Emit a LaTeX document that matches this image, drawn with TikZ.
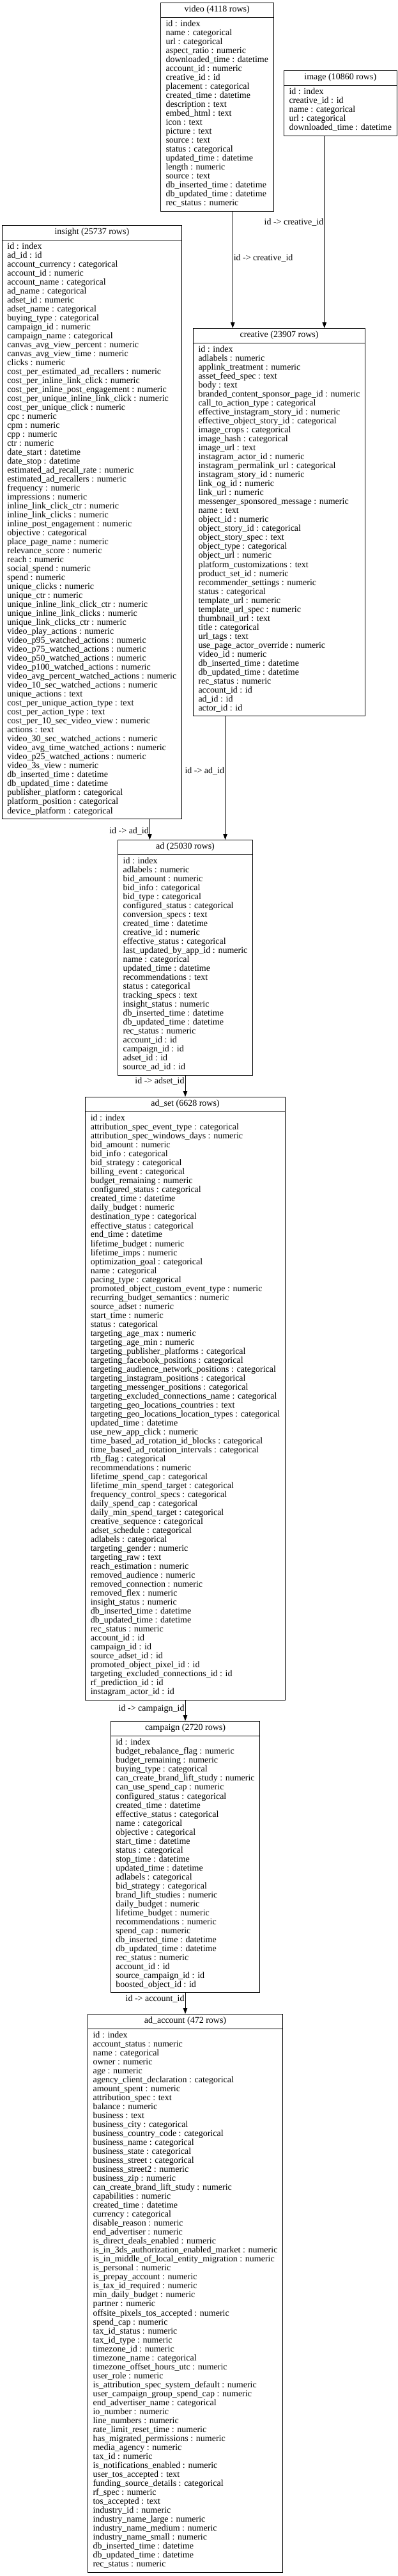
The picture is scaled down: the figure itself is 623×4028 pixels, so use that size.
\documentclass[tikz,border=0pt]{standalone}
\usepackage{fontspec}
\setmainfont{Liberation Serif}
\usetikzlibrary{shapes.multipart, arrows.meta, positioning}

\tikzset{
  tbl/.style={rectangle split, rectangle split parts=2, rectangle split part align={center,left},
    draw, line width=1pt, inner xsep=8pt, inner ysep=4pt, anchor=north west,
    font=\fontsize{14}{14}\selectfont},
  fk/.style={-{Triangle[length=9pt,width=6.5pt]}, line width=1pt},
  fklab/.style={font=\fontsize{14}{14}\selectfont, inner sep=1pt}
}
\newcommand{\tblrows}[1]{\begin{tabular}{@{}l@{}}#1\end{tabular}}

\begin{document}
\begin{tikzpicture}[x=1pt, y=-1pt]
\fill[white] (0,0) rectangle (623,4028);
\useasboundingbox (0,0) rectangle (623,4028);

% top row
\node[tbl] (video) at (251,4) {\strut video (4118 rows)
\nodepart{two}\tblrows{id : index\\ name : categorical\\ url : categorical\\ aspect\_ratio : numeric\\
downloaded\_time : datetime\\ account\_id : numeric\\ creative\_id : id\\ placement : categorical\\
created\_time : datetime\\ description : text\\ embed\_html : text\\ icon : text\\ picture : text\\
source : text\\ status : categorical\\ updated\_time : datetime\\ length : numeric\\ source : text\\
db\_inserted\_time : datetime\\ db\_updated\_time : datetime\\ rec\_status : numeric}};

\node[tbl] (image) at (444,110) {\strut image (10860 rows)
\nodepart{two}\tblrows{id : index\\ creative\_id : id\\ name : categorical\\ url : categorical\\
downloaded\_time : datetime}};

% insight
\node[tbl] (insight) at (3,352) {\strut insight (25737 rows)
\nodepart{two}\tblrows{id : index\\ ad\_id : id\\ account\_currency : categorical\\ account\_id : numeric\\
account\_name : categorical\\ ad\_name : categorical\\ adset\_id : numeric\\ adset\_name : categorical\\
buying\_type : categorical\\ campaign\_id : numeric\\ campaign\_name : categorical\\
canvas\_avg\_view\_percent : numeric\\ canvas\_avg\_view\_time : numeric\\ clicks : numeric\\
cost\_per\_estimated\_ad\_recallers : numeric\\ cost\_per\_inline\_link\_click : numeric\\
cost\_per\_inline\_post\_engagement : numeric\\ cost\_per\_unique\_inline\_link\_click : numeric\\
cost\_per\_unique\_click : numeric\\ cpc : numeric\\ cpm : numeric\\ cpp : numeric\\ ctr : numeric\\
date\_start : datetime\\ date\_stop : datetime\\ estimated\_ad\_recall\_rate : numeric\\
estimated\_ad\_recallers : numeric\\ frequency : numeric\\ impressions : numeric\\
inline\_link\_click\_ctr : numeric\\ inline\_link\_clicks : numeric\\ inline\_post\_engagement : numeric\\
objective : categorical\\ place\_page\_name : numeric\\ relevance\_score : numeric\\ reach : numeric\\
social\_spend : numeric\\ spend : numeric\\ unique\_clicks : numeric\\ unique\_ctr : numeric\\
unique\_inline\_link\_click\_ctr : numeric\\ unique\_inline\_link\_clicks : numeric\\
unique\_link\_clicks\_ctr : numeric\\ video\_play\_actions : numeric\\ video\_p95\_watched\_actions : numeric\\
video\_p75\_watched\_actions : numeric\\ video\_p50\_watched\_actions : numeric\\
video\_p100\_watched\_actions : numeric\\ video\_avg\_percent\_watched\_actions : numeric\\
video\_10\_sec\_watched\_actions : numeric\\ unique\_actions : text\\ cost\_per\_unique\_action\_type : text\\
cost\_per\_action\_type : text\\ cost\_per\_10\_sec\_video\_view : numeric\\ actions : text\\
video\_30\_sec\_watched\_actions : numeric\\ video\_avg\_time\_watched\_actions : numeric\\
video\_p25\_watched\_actions : numeric\\ video\_3s\_view : numeric\\ db\_inserted\_time : datetime\\
db\_updated\_time : datetime\\ publisher\_platform : categorical\\ platform\_position : categorical\\
device\_platform : categorical}};

% creative
\node[tbl] (creative) at (302,513) {\strut creative (23907 rows)
\nodepart{two}\tblrows{id : index\\ adlabels : numeric\\ applink\_treatment : numeric\\ asset\_feed\_spec : text\\
body : text\\ branded\_content\_sponsor\_page\_id : numeric\\ call\_to\_action\_type : categorical\\
effective\_instagram\_story\_id : numeric\\ effective\_object\_story\_id : categorical\\
image\_crops : categorical\\ image\_hash : categorical\\ image\_url : text\\ instagram\_actor\_id : numeric\\
instagram\_permalink\_url : categorical\\ instagram\_story\_id : numeric\\ link\_og\_id : numeric\\
link\_url : numeric\\ messenger\_sponsored\_message : numeric\\ name : text\\ object\_id : numeric\\
object\_story\_id : categorical\\ object\_story\_spec : text\\ object\_type : categorical\\
object\_url : numeric\\ platform\_customizations : text\\ product\_set\_id : numeric\\
recommender\_settings : numeric\\ status : categorical\\ template\_url : numeric\\
template\_url\_spec : numeric\\ thumbnail\_url : text\\ title : categorical\\ url\_tags : text\\
use\_page\_actor\_override : numeric\\ video\_id : numeric\\ db\_inserted\_time : datetime\\
db\_updated\_time : datetime\\ rec\_status : numeric\\ account\_id : id\\ ad\_id : id\\ actor\_id : id}};

% ad
\node[tbl, anchor=north] (ad) at (290,1313) {\strut ad (25030 rows)
\nodepart{two}\tblrows{id : index\\ adlabels : numeric\\ bid\_amount : numeric\\ bid\_info : categorical\\
bid\_type : categorical\\ configured\_status : categorical\\ conversion\_specs : text\\
created\_time : datetime\\ creative\_id : numeric\\ effective\_status : categorical\\
last\_updated\_by\_app\_id : numeric\\ name : categorical\\ updated\_time : datetime\\
recommendations : text\\ status : categorical\\ tracking\_specs : text\\ insight\_status : numeric\\
db\_inserted\_time : datetime\\ db\_updated\_time : datetime\\ rec\_status : numeric\\ account\_id : id\\
campaign\_id : id\\ adset\_id : id\\ source\_ad\_id : id}};

% ad_set
\node[tbl, anchor=north] (adset) at (290,1715) {\strut ad\_set (6628 rows)
\nodepart{two}\tblrows{id : index\\ attribution\_spec\_event\_type : categorical\\
attribution\_spec\_windows\_days : numeric\\ bid\_amount : numeric\\ bid\_info : categorical\\
bid\_strategy : categorical\\ billing\_event : categorical\\ budget\_remaining : numeric\\
configured\_status : categorical\\ created\_time : datetime\\ daily\_budget : numeric\\
destination\_type : categorical\\ effective\_status : categorical\\ end\_time : datetime\\
lifetime\_budget : numeric\\ lifetime\_imps : numeric\\ optimization\_goal : categorical\\
name : categorical\\ pacing\_type : categorical\\ promoted\_object\_custom\_event\_type : numeric\\
recurring\_budget\_semantics : numeric\\ source\_adset : numeric\\ start\_time : numeric\\
status : categorical\\ targeting\_age\_max : numeric\\ targeting\_age\_min : numeric\\
targeting\_publisher\_platforms : categorical\\ targeting\_facebook\_positions : categorical\\
targeting\_audience\_network\_positions : categorical\\ targeting\_instagram\_positions : categorical\\
targeting\_messenger\_positions : categorical\\ targeting\_excluded\_connections\_name : categorical\\
targeting\_geo\_locations\_countries : text\\ targeting\_geo\_locations\_location\_types : categorical\\
updated\_time : datetime\\ use\_new\_app\_click : numeric\\ time\_based\_ad\_rotation\_id\_blocks : categorical\\
time\_based\_ad\_rotation\_intervals : categorical\\ rtb\_flag : categorical\\ recommendations : numeric\\
lifetime\_spend\_cap : categorical\\ lifetime\_min\_spend\_target : categorical\\
frequency\_control\_specs : categorical\\ daily\_spend\_cap : categorical\\
daily\_min\_spend\_target : categorical\\ creative\_sequence : categorical\\ adset\_schedule : categorical\\
adlabels : categorical\\ targeting\_gender : numeric\\ targeting\_raw : text\\ reach\_estimation : numeric\\
removed\_audience : numeric\\ removed\_connection : numeric\\ removed\_flex : numeric\\
insight\_status : numeric\\ db\_inserted\_time : datetime\\ db\_updated\_time : datetime\\
rec\_status : numeric\\ account\_id : id\\ campaign\_id : id\\ source\_adset\_id : id\\
promoted\_object\_pixel\_id : id\\ targeting\_excluded\_connections\_id : id\\ rf\_prediction\_id : id\\
instagram\_actor\_id : id}};

% campaign
\node[tbl, anchor=north] (campaign) at (290,2691) {\strut campaign (2720 rows)
\nodepart{two}\tblrows{id : index\\ budget\_rebalance\_flag : numeric\\ budget\_remaining : numeric\\
buying\_type : categorical\\ can\_create\_brand\_lift\_study : numeric\\ can\_use\_spend\_cap : numeric\\
configured\_status : categorical\\ created\_time : datetime\\ effective\_status : categorical\\
name : categorical\\ objective : categorical\\ start\_time : datetime\\ status : categorical\\
stop\_time : datetime\\ updated\_time : datetime\\ adlabels : categorical\\ bid\_strategy : categorical\\
brand\_lift\_studies : numeric\\ daily\_budget : numeric\\ lifetime\_budget : numeric\\
recommendations : numeric\\ spend\_cap : numeric\\ db\_inserted\_time : datetime\\
db\_updated\_time : datetime\\ rec\_status : numeric\\ account\_id : id\\ source\_campaign\_id : id\\
boosted\_object\_id : id}};

% ad_account
\node[tbl, anchor=north] (account) at (290,3149) {\strut ad\_account (472 rows)
\nodepart{two}\tblrows{id : index\\ account\_status : numeric\\ name : categorical\\ owner : numeric\\
age : numeric\\ agency\_client\_declaration : categorical\\ amount\_spent : numeric\\
attribution\_spec : text\\ balance : numeric\\ business : text\\ business\_city : categorical\\
business\_country\_code : categorical\\ business\_name : categorical\\ business\_state : categorical\\
business\_street : categorical\\ business\_street2 : numeric\\ business\_zip : numeric\\
can\_create\_brand\_lift\_study : numeric\\ capabilities : numeric\\ created\_time : datetime\\
currency : categorical\\ disable\_reason : numeric\\ end\_advertiser : numeric\\
is\_direct\_deals\_enabled : numeric\\ is\_in\_3ds\_authorization\_enabled\_market : numeric\\
is\_in\_middle\_of\_local\_entity\_migration : numeric\\ is\_personal : numeric\\
is\_prepay\_account : numeric\\ is\_tax\_id\_required : numeric\\ min\_daily\_budget : numeric\\
partner : numeric\\ offsite\_pixels\_tos\_accepted : numeric\\ spend\_cap : numeric\\
tax\_id\_status : numeric\\ tax\_id\_type : numeric\\ timezone\_id : numeric\\
timezone\_name : categorical\\ timezone\_offset\_hours\_utc : numeric\\ user\_role : numeric\\
is\_attribution\_spec\_system\_default : numeric\\ user\_campaign\_group\_spend\_cap : numeric\\
end\_advertiser\_name : categorical\\ io\_number : numeric\\ line\_numbers : numeric\\
rate\_limit\_reset\_time : numeric\\ has\_migrated\_permissions : numeric\\ media\_agency : numeric\\
tax\_id : numeric\\ is\_notifications\_enabled : numeric\\ user\_tos\_accepted : text\\
funding\_source\_details : categorical\\ rf\_spec : numeric\\ tos\_accepted : text\\
industry\_id : numeric\\ industry\_name\_large : numeric\\ industry\_name\_medium : numeric\\
industry\_name\_small : numeric\\ db\_inserted\_time : datetime\\ db\_updated\_time : datetime\\
rec\_status : numeric}};

% foreign keys
\draw[fk] ([xshift=24.5pt]video.south) -- ([xshift=24.5pt]video.south |- creative.north)
  node[fklab, pos=0.4, anchor=west] {id -> creative\_id};
\draw[fk] ([xshift=-25pt]image.south) -- ([xshift=-25pt]image.south |- creative.north)
  node[fklab, pos=0.45, anchor=east] {id -> creative\_id};
\draw[fk] ([xshift=-84.5pt]creative.south) -- ([xshift=-84.5pt]creative.south |- ad.north)
  node[fklab, pos=0.44, anchor=east] {id -> ad\_id};
\draw[fk] ([xshift=90.5pt]insight.south) -- ([xshift=90.5pt]insight.south |- ad.north)
  node[fklab, pos=0.57, anchor=east] {id -> ad\_id};
\draw[fk] (ad.south) -- (ad.south |- adset.north)
  node[fklab, pos=0.25, anchor=east] {id -> adset\_id};
\draw[fk] (adset.south) -- (adset.south |- campaign.north)
  node[fklab, pos=0.4, anchor=east] {id -> campaign\_id};
\draw[fk] (campaign.south) -- (campaign.south |- account.north)
  node[fklab, pos=0.27, anchor=east] {id -> account\_id};
\end{tikzpicture}
\end{document}
